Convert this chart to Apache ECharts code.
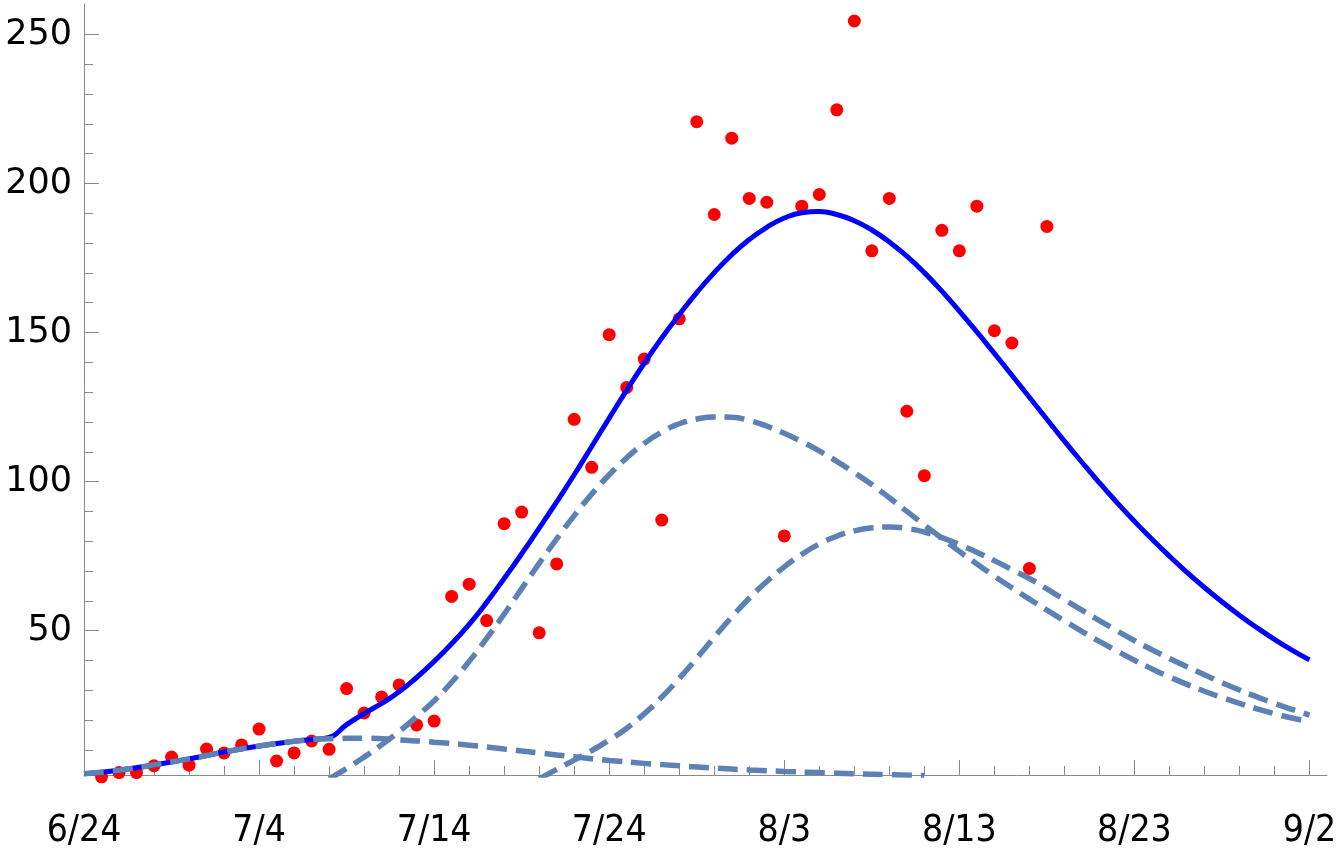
<!DOCTYPE html>
<html>
<head>
<meta charset="utf-8">
<script src="https://cdn.jsdelivr.net/npm/echarts@6/dist/echarts.min.js"></script>
<style>
html, body { margin: 0; padding: 0; background: #fff; }
#chart { width: 1342px; height: 851px; }
</style>
</head>
<body>
<div id="chart"></div>
<script>
// x is days counted from 6/24
const xTickDays = [0, 10, 20, 30, 40, 50, 60, 70];
const xTickLabels = ['6/24', '7/4', '7/14', '7/24', '8/3', '8/13', '8/23', '9/2'];
const xMinorDays = [2, 4, 6, 8, 12, 14, 16, 18, 22, 24, 26, 28, 32, 34, 36, 38,
    42, 44, 46, 48, 52, 54, 56, 58, 62, 64, 66, 68];
const yTickValues = [50, 100, 150, 200, 250];
const yMinorValues = [10, 20, 30, 40, 60, 70, 80, 90, 110, 120, 130, 140,
    160, 170, 180, 190, 210, 220, 230, 240];

// daily counts (red dots), 6/25 .. 8/18
const obsDays = [1, 2, 3, 4, 5, 6, 7, 8, 9, 10, 11, 12, 13, 14, 15, 16, 17, 18, 19, 20,
    21, 22, 23, 24, 25, 26, 27, 28, 29, 30, 31, 32, 33, 34, 35, 36, 37, 38, 39, 40,
    41, 42, 43, 44, 45, 46, 47, 48, 49, 50, 51, 52, 53, 54, 55];
const obsValues = [1.0, 2.4, 2.4, 4.7, 7.6, 4.9, 10.3, 9.0, 11.7, 17.0,
    6.3, 9.0, 13.0, 10.2, 30.6, 22.4, 27.8, 31.8, 18.4, 19.7,
    61.5, 65.6, 53.4, 85.9, 89.8, 49.3, 72.4, 120.9, 104.8, 149.3,
    131.6, 141.1, 87.1, 154.6, 220.7, 189.6, 215.2, 195.0, 193.7, 81.8,
    192.4, 196.3, 224.7, 254.5, 177.4, 195.0, 123.6, 102.0, 184.3, 177.4,
    192.4, 150.6, 146.5, 70.9, 185.6];

// total fit (solid blue)
const totalDays = [0, 2, 4, 6, 8, 10, 12, 13, 14, 15, 16, 17, 18, 19, 20, 21, 22, 23, 24, 25,
    26, 27, 28, 29, 30, 31, 32, 33, 34, 35, 36, 37, 38, 39, 40, 41, 42, 43, 44, 45,
    46, 47, 48, 49, 50, 51, 52, 53, 54, 55, 56, 57, 58, 59, 60, 61, 62, 63, 64, 65,
    66, 67, 68, 69, 70];
const totalValues = [2.0, 3.2, 5.0, 7.0, 9.3, 11.3, 12.9, 13.5, 14.2, 18.5, 22.2, 25.6, 29.5, 34.3, 39.7, 45.6, 52.1, 59.5, 67.5, 75.8,
    84.4, 93.2, 102.3, 111.8, 121.3, 130.7, 139.7, 148.2, 156.0, 163.4, 170.1, 176.1, 181.2, 185.3, 188.4, 190.2, 190.6, 189.6, 187.5, 184.4,
    180.4, 175.6, 170.1, 163.9, 157.2, 150.2, 143.0, 135.7, 128.3, 120.9, 113.6, 106.5, 99.6, 93.0, 86.7, 80.7, 75.0, 69.6, 64.5, 59.7,
    55.2, 51.0, 47.1, 43.5, 40.2];

// first wave (dashed)
const wave1Days = [0, 2, 4, 6, 8, 10, 12, 14, 16, 18, 20, 22, 24, 26, 28, 30, 32, 34, 36, 38, 40, 42, 44, 46, 48];
const wave1Values = [2.0, 3.2, 5.0, 7.0, 9.3, 11.3, 12.9, 13.8, 13.9, 13.4, 12.6, 11.6, 10.3, 9.0, 7.7, 6.5, 5.5, 4.7, 3.9, 3.3, 2.8, 2.4, 2.0, 1.7, 1.4];

// second wave (dashed)
const wave2Days = [14, 15, 16, 17, 18, 19, 20, 21, 22, 23, 24, 25, 26, 27, 28, 29, 30, 31, 32, 33,
    34, 35, 36, 37, 38, 39, 40, 41, 42, 43, 44, 45, 46, 47, 48, 49, 50, 51, 52, 53,
    54, 55, 56, 57, 58, 59, 60, 61, 62, 63, 64, 65, 66, 67, 68, 69, 70];
const wave2Values = [0.3, 3.8, 7.6, 11.7, 16.2, 21.2, 26.5, 32.7, 39.7, 47.4, 55.6, 64.1, 72.6, 80.8, 88.6, 95.8, 102.3, 108.0, 112.8, 116.6,
    119.4, 121.0, 121.7, 121.6, 120.5, 118.6, 116.2, 113.4, 110.3, 106.8, 103.0, 99.0, 94.6, 90.0, 85.5, 81.0, 76.6, 72.4, 68.3, 64.4,
    60.6, 56.9, 53.3, 49.8, 46.4, 43.2, 40.1, 37.2, 34.5, 32.0, 29.7, 27.6, 25.6, 23.8, 22.2, 20.7, 19.5];

// third wave (dashed)
const wave3Days = [26, 27, 28, 29, 30, 31, 32, 33, 34, 35, 36, 37, 38, 39, 40, 41, 42, 43, 44, 45,
    46, 47, 48, 49, 50, 51, 52, 53, 54, 55, 56, 57, 58, 59, 60, 61, 62, 63, 64, 65,
    66, 67, 68, 69, 70];
const wave3Values = [0.3, 3.5, 6.6, 9.8, 13.3, 17.3, 22.1, 27.7, 34.0, 40.8, 47.8, 54.6, 60.9, 66.5, 71.4, 75.6, 79.1, 81.7, 83.5, 84.5,
    84.8, 84.3, 83.1, 81.2, 78.9, 76.3, 73.5, 70.5, 67.5, 64.0, 60.4, 56.9, 53.4, 50.0, 46.7, 43.6, 40.7, 37.9, 35.2, 32.6,
    30.1, 27.8, 25.6, 23.6, 21.7];

function pairs(xs, ys) {
    return xs.map(function(x, i) { return [x, ys[i]]; });
}

const axisGray = '#8a8a8a';
const waveStyle = { color: '#5E81B5', width: 5.5, type: [20, 9], cap: 'butt' };

const chart = echarts.init(document.getElementById('chart'));
chart.setOption({
    animation: false,
    grid: { left: 84, right: 15, top: 4, bottom: 76, containLabel: false, outerBoundsMode: 'none' },
    xAxis: [{
        type: 'value', min: 0, max: 71, position: 'bottom',
        axisLine: { onZero: false, lineStyle: { color: axisGray, width: 1 } },
        axisTick: { inside: true, length: 15, customValues: xTickDays, lineStyle: { color: axisGray } },
        axisLabel: {
            customValues: xTickDays,
            margin: 38,
            fontSize: 37,
            fontFamily: "'Liberation Sans Narrow', 'DejaVu Sans Condensed', 'Noto Sans CJK JP', sans-serif",
            color: '#000',
            formatter: function(v) { return xTickLabels[xTickDays.indexOf(v)]; }
        },
        splitLine: { show: false }
    }, {
        type: 'value', min: 0, max: 71, position: 'bottom',
        axisLine: { show: false, onZero: false },
        axisTick: { inside: true, length: 9, customValues: xMinorDays, lineStyle: { color: axisGray } },
        axisLabel: { show: false },
        splitLine: { show: false }
    }],
    yAxis: [{
        type: 'value', min: 1.6, max: 260.2, position: 'left',
        axisLine: { show: true, onZero: false, lineStyle: { color: axisGray, width: 1 } },
        axisTick: { show: true, inside: true, length: 15, customValues: yTickValues, lineStyle: { color: axisGray } },
        axisLabel: {
            customValues: yTickValues,
            margin: 12,
            fontSize: 35,
            fontFamily: "'DejaVu Sans', sans-serif",
            color: '#000',
            padding: [0, 0, 10, 0]
        },
        splitLine: { show: false }
    }, {
        type: 'value', min: 1.6, max: 260.2, position: 'left',
        axisLine: { show: false, onZero: false },
        axisTick: { show: true, inside: true, length: 9, customValues: yMinorValues, lineStyle: { color: axisGray } },
        axisLabel: { show: false },
        splitLine: { show: false }
    }],
    series: [{
        name: 'total',
        type: 'line',
        data: pairs(totalDays, totalValues),
        showSymbol: false,
        smooth: 0.5,
        lineStyle: { color: '#0000FF', width: 5 }
    }, {
        name: 'wave1',
        type: 'line',
        data: pairs(wave1Days, wave1Values),
        showSymbol: false,
        smooth: 0.5,
        lineStyle: waveStyle
    }, {
        name: 'wave2',
        type: 'line',
        data: pairs(wave2Days, wave2Values),
        showSymbol: false,
        smooth: 0.5,
        lineStyle: waveStyle
    }, {
        name: 'wave3',
        type: 'line',
        data: pairs(wave3Days, wave3Values),
        showSymbol: false,
        smooth: 0.5,
        lineStyle: waveStyle
    }, {
        name: 'daily',
        type: 'scatter',
        data: pairs(obsDays, obsValues),
        symbolSize: 13,
        clip: false,
        itemStyle: { color: '#FF0000', opacity: 1 }
    }]
});
</script>
</body>
</html>
